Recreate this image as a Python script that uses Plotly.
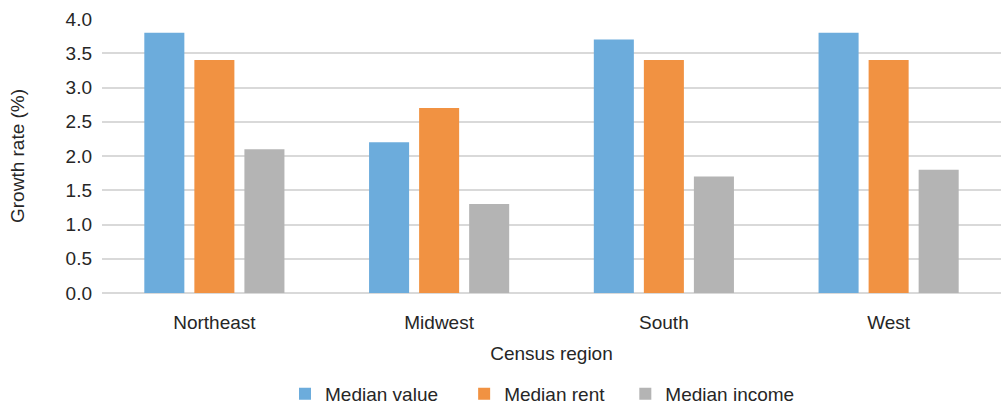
import plotly.graph_objects as go

regions = ["Northeast", "Midwest", "South", "West"]
median_value = [3.8, 2.2, 3.7, 3.8]
median_rent = [3.4, 2.7, 3.4, 3.4]
median_income = [2.1, 1.3, 1.7, 1.8]

NB = "\u00a0"
series = [
    ("Median value", median_value, "#6CACDC", 4),
    ("Median rent", median_rent, "#F19242", 3),
    ("Median income", median_income, "#B4B4B4", 0),
]

fig = go.Figure()
for name, vals, color, pad in series:
    fig.add_trace(go.Bar(x=regions, y=vals, name=name + NB * pad, marker_color=color,
                         marker_line_width=0))

font_family = "Liberation Sans, Arial, sans-serif"
FS = 19
fig.update_layout(
    width=1002, height=405,
    margin=dict(l=102, r=1, t=19, b=112, autoexpand=False),
    paper_bgcolor="white", plot_bgcolor="white",
    barmode="group", bargap=0.332, bargroupgap=0.2,
    font=dict(family=font_family, size=FS, color="#262626"),
    legend=dict(orientation="h", x=285 / 1002, xanchor="left", xref="container",
                y=-0.368, yanchor="middle", yref="paper",
                font=dict(size=FS), itemwidth=30, traceorder="normal"),
    showlegend=True,
)
fig.add_annotation(text="Growth rate (%)", textangle=-90, showarrow=False,
                   xref="paper", yref="paper", x=(17 - 102) / 899, y=0.5,
                   xanchor="center", yanchor="middle", font=dict(size=FS))
fig.update_yaxes(range=[0, 4], dtick=0.5, tickformat=".1f", showgrid=True,
                 gridcolor="#D9D9D9", gridwidth=1.5, zeroline=True,
                 zerolinecolor="#D9D9D9", zerolinewidth=1.5,
                 ticks="", tickfont=dict(size=FS), ticklabelstandoff=9,
                 automargin=False)
fig.update_xaxes(showgrid=False, showline=False, ticks="",
                 tickfont=dict(size=FS), ticklabelstandoff=16,
                 title=dict(text="Census region", font=dict(size=FS), standoff=14),
                 automargin=False)

fig.write_html("out.html")
